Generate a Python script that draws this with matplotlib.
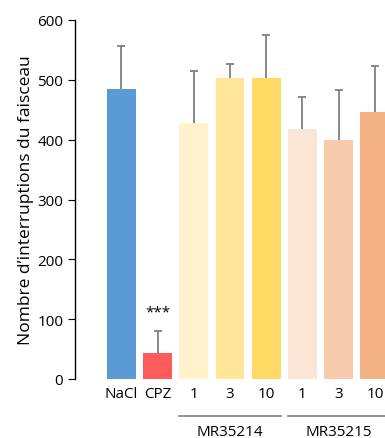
import matplotlib.pyplot as plt
import numpy as np

plt.rcParams['font.family'] = ['Open Sans', 'DejaVu Sans']

labels = ['NaCl', 'CPZ', '1', '3', '10', '1', '3', '10']
means = [485, 43, 428, 503, 503, 418, 400, 446]
errs = [72, 37, 87, 24, 72, 54, 83, 77]
colors = ['#5B9BD5', '#FF5B5B', '#FFF2CC', '#FFE699', '#FFD966',
          '#FBE5D6', '#F8CBAD', '#F4B183']
groups = [('MR35214', 2, 4), ('MR35215', 5, 7)]

fig = plt.figure(figsize=(3.85, 4.39), dpi=100)
ax = fig.add_axes([75 / 385, 59 / 439, 1 - 75 / 385, (380 - 21) / 439])

x = np.arange(len(labels))
m = np.array(means, dtype=float)
e = np.array(errs, dtype=float)
ax.bar(x, m, width=0.8, color=colors, zorder=2)
# only the upper whisker: start a little inside the bar so the lower cap is hidden
lo = m - 8
ax.errorbar(x, (lo + m + e) / 2, yerr=(m + e - lo) / 2, fmt='none',
            ecolor='#7f7f7f', elinewidth=1.3, capsize=3, capthick=1.3, zorder=1)

ax.text(1, 112, '***', ha='center', va='center', fontsize=11)

ax.set_xlim(-1.28, 7.28)
ax.set_ylim(0, 600)
ax.set_yticks(range(0, 601, 100))
ax.set_xticks(x)
ax.set_xticklabels(labels, fontsize=11)
ax.tick_params(axis='x', length=0, pad=5)
ax.tick_params(axis='y', labelsize=11, length=5, direction='out')
ax.set_ylabel("Nombre d\u2019interruptions du faisceau", fontsize=12.5, labelpad=2)
for s in ['top', 'right', 'bottom']:
    ax.spines[s].set_visible(False)
ax.spines['left'].set_linewidth(1)

for name, a, b in groups:
    ax.plot([a - 0.4, b + 0.4], [-62, -62], color='#7f7f7f', lw=1.2,
            clip_on=False)
    ax.text((a + b) / 2, -87, name, ha='center', va='center', fontsize=11)

fig.savefig('out.png', dpi=100)
